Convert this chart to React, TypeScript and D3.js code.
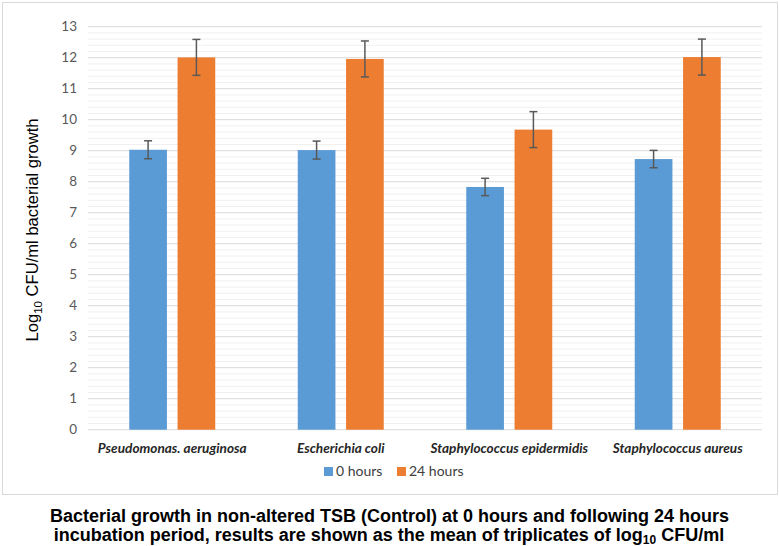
import React from "react";
import * as d3 from "d3";

const categories = [
  "Pseudomonas. aeruginosa",
  "Escherichia coli",
  "Staphylococcus epidermidis",
  "Staphylococcus aureus",
];
const seriesNames = ["0 hours", "24 hours"];
const values0h = [9.03, 9.02, 7.83, 8.73];
const errors0h = [0.29, 0.29, 0.28, 0.28];
const values24h = [12.01, 11.96, 9.68, 12.02];
const errors24h = [0.58, 0.58, 0.58, 0.58];
const yTicks = [0, 1, 2, 3, 4, 5, 6, 7, 8, 9, 10, 11, 12, 13];
const colors = ["#5b9bd5", "#ed7d31"];

export default function App() {
  const W = 779, H = 546;
  const left = 88, right = 762, top = 26.7, bottom = 429.7;
  const y = d3.scaleLinear().domain([0, 13]).range([bottom, top]);
  const x0 = d3.scaleBand().domain(categories).range([left, right]).paddingInner(0).paddingOuter(0);
  const x1 = d3.scaleBand().domain(seriesNames).range([0, 86]).paddingInner(0.22);
  const minor = d3.range(0, 65).map((i) => i * 0.2).filter((v) => Math.abs(v - Math.round(v)) > 1e-6);
  const series = [
    { name: seriesNames[0], vals: values0h, errs: errors0h, color: colors[0] },
    { name: seriesNames[1], vals: values24h, errs: errors24h, color: colors[1] },
  ];
  const tickFont = "Lato, 'Open Sans', sans-serif";
  const arial = "'Liberation Sans', Arial, sans-serif";
  return (
    <svg width={W} height={H} style={{ position: "absolute", left: 0, top: 0 }}>
      <rect x={0} y={0} width={W} height={H} fill="#fff" />
      <rect x={2.5} y={2.5} width={775} height={492} fill="#fff" stroke="#d9d9d9" strokeWidth={1} />
      {minor.map((v) => (
        <line key={"m" + v} x1={left} x2={right} y1={y(v)} y2={y(v)} stroke="#f0f0f0" strokeWidth={1} />
      ))}
      {yTicks.map((t) => (
        <g key={t}>
          <line x1={left} x2={right} y1={y(t)} y2={y(t)} stroke="#d9d9d9" strokeWidth={1} />
          <text x={77} y={y(t)} dy="0.35em" textAnchor="end" fontFamily={tickFont} fontSize={13.5} fill="#595959">
            {t}
          </text>
        </g>
      ))}
      {categories.map((c, i) => {
        const cx = (x0(c) as number) + x0.bandwidth() / 2;
        return (
          <g key={c} transform={`translate(${cx - 43},0)`}>
            {series.map((s) => {
              const bx = x1(s.name) as number;
              const bw = x1.bandwidth();
              const v = s.vals[i];
              const e = s.errs[i];
              const mx = bx + bw / 2;
              return (
                <g key={s.name}>
                  <rect x={bx} y={y(v)} width={bw} height={bottom - y(v)} fill={s.color} />
                  <line x1={mx} x2={mx} y1={y(v + e)} y2={y(v - e)} stroke="#595959" strokeWidth={1.5} />
                  <line x1={mx - 4} x2={mx + 4} y1={y(v + e)} y2={y(v + e)} stroke="#595959" strokeWidth={1.5} />
                  <line x1={mx - 4} x2={mx + 4} y1={y(v - e)} y2={y(v - e)} stroke="#595959" strokeWidth={1.5} />
                </g>
              );
            })}
          </g>
        );
      })}
      {categories.map((c) => (
        <text key={"l" + c} x={(x0(c) as number) + x0.bandwidth() / 2} y={453} textAnchor="middle"
          fontFamily={tickFont} fontSize={13.6} fontWeight="bold" fontStyle="italic" fill="#262626">
          {c}
        </text>
      ))}
      <g>
        <rect x={324} y={467} width={9} height={9} fill={colors[0]} />
        <text x={336} y={476} fontFamily={tickFont} fontSize={14} fill="#404040">0 hours</text>
        <rect x={397} y={467} width={9} height={9} fill={colors[1]} />
        <text x={409} y={476} fontFamily={tickFont} fontSize={14} fill="#404040">24 hours</text>
      </g>
      <text transform="translate(37.5,230) rotate(-90)" textAnchor="middle" fontFamily={arial} fontSize={16.6} fill="#000">
        Log<tspan fontSize={11.5} dy={4}>10</tspan><tspan dy={-4}> CFU/ml bacterial growth</tspan>
      </text>
      <text x={389.5} y={521.5} textAnchor="middle" fontFamily={arial} fontSize={18} fontWeight="bold" fill="#000">
        Bacterial growth in non-altered TSB (Control) at 0 hours and following 24 hours
      </text>
      <text x={389} y={541} textAnchor="middle" fontFamily={arial} fontSize={18} fontWeight="bold" fill="#000">
        incubation period, results are shown as the mean of triplicates of log<tspan fontSize={12} dy={3}>10</tspan><tspan dy={-3}> CFU/ml</tspan>
      </text>
    </svg>
  );
}
